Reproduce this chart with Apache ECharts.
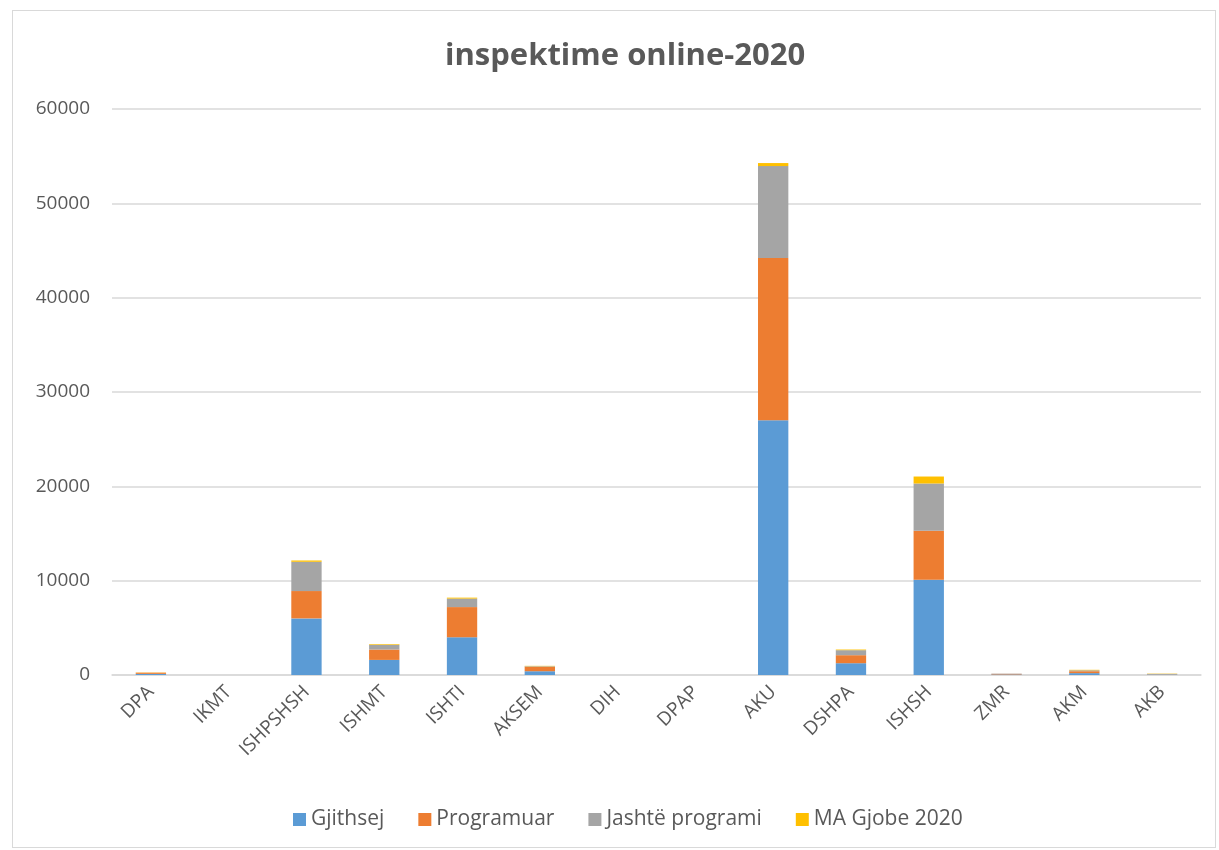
<!DOCTYPE html>
<html><head><meta charset="utf-8">
<script src="https://cdn.jsdelivr.net/npm/echarts@6/dist/echarts.min.js"></script>
<style>html,body{margin:0;padding:0;background:#fff}#frame{position:absolute;left:12px;top:10px;width:1204px;height:838px;border:1px solid #d9d9d9;box-sizing:border-box}#c{width:1219px;height:850px;position:absolute;left:0;top:0}</style>
</head><body><div id="frame"></div><div id="c"></div>
<script>
const categories = ["DPA","IKMT","ISHPSHSH","ISHMT","ISHTI","AKSEM","DIH","DPAP","AKU","DSHPA","ISHSH","ZMR","AKM","AKB"];
const gjithsej   = [120, 0, 6000, 1600, 4000, 400, 0, 0, 27000, 1250, 10100, 60, 200, 20];
const programuar = [130, 0, 2900, 1100, 3200, 470, 0, 0, 17200, 850, 5200, 60, 200, 0];
const jashte     = [0, 0, 3100, 500, 900, 60, 0, 0, 9750, 530, 5000, 30, 100, 100];
const maGjobe    = [20, 0, 140, 70, 100, 40, 0, 0, 320, 70, 740, 0, 50, 30];
const seriesNames = ["Gjithsej","Programuar","Jashtë programi","MA Gjobe 2020"];
const colors = ["#5B9BD5","#ED7D31","#A5A5A5","#FFC000"];
const yTicks = [0,10000,20000,30000,40000,50000,60000];

const chart = echarts.init(document.getElementById('c'));
const data = [gjithsej, programuar, jashte, maGjobe];
chart.setOption({
  animation:false,
  title:{text:"inspektime online-2020",left:440,top:36,textStyle:{fontFamily:'Open Sans',fontWeight:'bold',fontSize:31,color:'#595959'}},
  grid:{left:112,right:18,top:109,bottom:175,containLabel:false},
  legend:{bottom:15,left:288,itemWidth:13,itemHeight:13,itemGap:34,icon:'rect',
    textStyle:{fontFamily:'Open Sans',fontSize:21,color:'#595959'},data:seriesNames},
  xAxis:{type:'category',data:categories,
    axisLine:{lineStyle:{color:'#d9d9d9',width:1.5}},axisTick:{show:false},
    axisLabel:{rotate:45,fontFamily:'Open Sans',fontSize:19,color:'#595959',margin:14,interval:0}},
  yAxis:{type:'value',min:0,max:60000,interval:10000,
    axisLine:{show:false},axisTick:{show:false},
    splitLine:{lineStyle:{color:'#d9d9d9',width:1.5}},
    axisLabel:{fontFamily:'Open Sans',fontSize:19,color:'#595959',margin:22,formatter:v=>String(v)}},
  series:seriesNames.map((n,i)=>({name:n,type:'bar',stack:'t',data:data[i],barWidth:'39%',
    itemStyle:{color:colors[i]}}))
});
</script></body></html>
